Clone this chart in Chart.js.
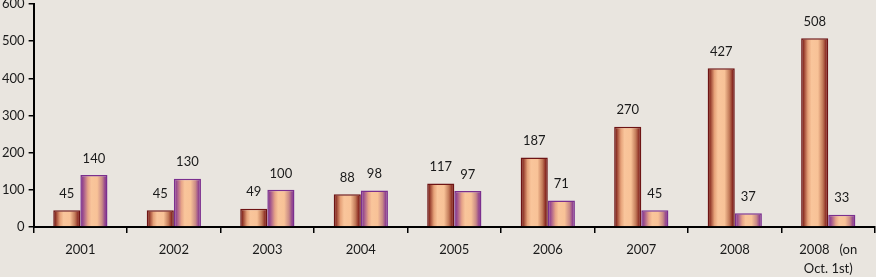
<!DOCTYPE html>
<html>
<head>
<meta charset="utf-8">
<script src="https://cdn.jsdelivr.net/npm/chart.js@4.4.0/dist/chart.umd.min.js"></script>
<style>
  html, body { margin: 0; padding: 0; background: #e9e5df; overflow: hidden; }
  #wrap { position: relative; width: 878px; height: 294px; margin-top: -8px; margin-left: -2px; }
</style>
</head>
<body>
<div id="wrap"><canvas id="chart"></canvas></div>
<script>
// ---- data ----
const categories = ['2001', '2002', '2003', '2004', '2005', '2006', '2007', '2008', ['2008   (on', 'Oct. 1st)']];
const seriesA = [45, 45, 49, 88, 117, 187, 270, 427, 508];
const seriesB = [140, 130, 100, 98, 97, 71, 45, 37, 33];
const yTicks = [0, 100, 200, 300, 400, 500, 600];

const FONT = 'Lato, "Open Sans", sans-serif';

// colour stops for the cylinder look, left edge -> right edge
const shadeA = [[0, '#761a16'], [0.08, '#8c3024'], [0.25, '#e6a279'], [0.38, '#f9c59b'], [0.62, '#f8c297'], [0.8, '#c27a59'], [0.92, '#8a2a22'], [1, '#741915']];
const shadeB = [[0, '#80328a'], [0.1, '#9b4d8e'], [0.28, '#e7a488'], [0.4, '#f9c59b'], [0.62, '#f8c297'], [0.8, '#c98a86'], [0.92, '#8e3f8f'], [1, '#7d2f88']];

// scriptable colour so every bar gets its own options object
const placeholder = ctx => ctx.datasetIndex === 0 ? '#e0a07a' : '#d9a08e';

// horizontal shading per bar
const gradientPlugin = {
    id: 'barShade',
    beforeDatasetsDraw(chart) {
        const ctx = chart.ctx;
        [shadeA, shadeB].forEach((stops, di) => {
            chart.getDatasetMeta(di).data.forEach(bar => {
                const g = ctx.createLinearGradient(bar.x - bar.width / 2, 0, bar.x + bar.width / 2, 0);
                stops.forEach(s => g.addColorStop(s[0], s[1]));
                bar.options.backgroundColor = g;
            });
        });
    }
};

// value labels above bars
const valueLabels = {
    id: 'valueLabels',
    afterDatasetsDraw(chart) {
        const ctx = chart.ctx;
        ctx.save();
        ctx.font = '13px ' + FONT;
        ctx.fillStyle = '#1a1a1a';
        ctx.textAlign = 'center';
        ctx.textBaseline = 'bottom';
        chart.data.datasets.forEach((ds, di) => {
            chart.getDatasetMeta(di).data.forEach((bar, i) => {
                ctx.fillText(ds.data[i], bar.x, bar.y - 10);
            });
        });
        ctx.restore();
    }
};

new Chart(document.getElementById('chart'), {
    type: 'bar',
    data: {
        labels: categories,
        datasets: [
            { label: 'A', data: seriesA, backgroundColor: placeholder, borderColor: '#6e1414', borderWidth: 1.5,
              barPercentage: 1, categoryPercentage: 0.58 },
            { label: 'B', data: seriesB, backgroundColor: placeholder, borderColor: '#7b2f8e', borderWidth: 1.5,
              barPercentage: 1, categoryPercentage: 0.58 }
        ]
    },
    options: {
        responsive: true, maintainAspectRatio: false, animation: false,
        layout: { padding: { top: 12, right: 1, left: 0, bottom: 0 } },
        plugins: { legend: { display: false }, tooltip: { enabled: false } },
        scales: {
            x: {
                grid: { display: true, drawOnChartArea: false, drawTicks: true, tickLength: 6, color: '#000', lineWidth: 1.5 },
                border: { color: '#000', width: 2 },
                ticks: { color: '#1a1a1a', font: { family: FONT, size: 13, lineHeight: 1.5 }, padding: 7, maxRotation: 0, autoSkip: false }
            },
            y: {
                min: 0, max: 600,
                afterBuildTicks(axis) { axis.ticks = yTicks.map(v => ({ value: v })); },
                grid: { display: true, drawOnChartArea: false, drawTicks: true, tickLength: 5, color: '#000', lineWidth: 1.5 },
                border: { color: '#000', width: 2 },
                ticks: { color: '#1a1a1a', font: { family: FONT, size: 13 }, padding: 4 }
            }
        }
    },
    plugins: [gradientPlugin, valueLabels]
});
</script>
</body>
</html>
